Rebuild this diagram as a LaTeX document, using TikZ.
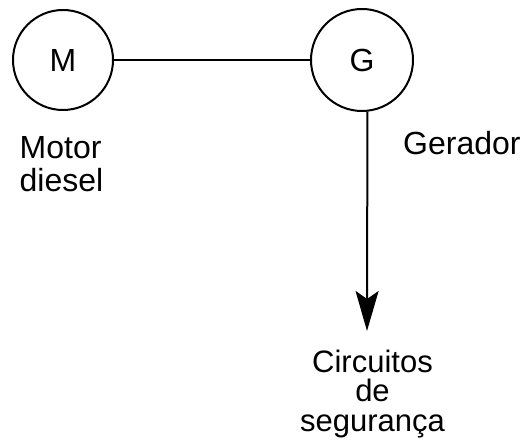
\documentclass[tikz,border=0pt]{standalone}
\usepackage{fontspec}
\setmainfont{Liberation Sans}
\usetikzlibrary{arrows.meta}
\begin{document}
\begin{tikzpicture}[x=1pt,y=1pt,
  machine/.style={circle,draw,line width=2pt,minimum size=100pt,inner sep=0pt,
    font=\fontsize{32}{32}\selectfont},
  wire/.style={line width=2pt},
  arr/.style={line width=2pt,-{Stealth[length=40pt,width=23pt,inset=8pt]}},
  lbl/.style={inner sep=0pt,font=\fontsize{32}{32}\selectfont}]
\useasboundingbox (0,0) rectangle (525,445);
\node[machine] (M) at (63,385) {M};
\node[machine,minimum size=102pt] (G) at (362,385) {G};
\draw[wire] (M.east) -- (G.west);
\coordinate (tip) at (367,114);
\draw[arr] (G.-84) -- (tip);
\node[lbl,anchor=north west,align=left,font=\fontsize{32}{32.5}\selectfont] (md) at (19.5,308.3) {Motor\\diesel};
\node[lbl,anchor=base west] (ger) at (403,290) {Gerador};
\node[lbl,anchor=north,align=center,font=\fontsize{31}{29.6}\selectfont] (cs) at (372.5,95.5) {Circuitos\\de\\segurança};
\end{tikzpicture}
\end{document}
